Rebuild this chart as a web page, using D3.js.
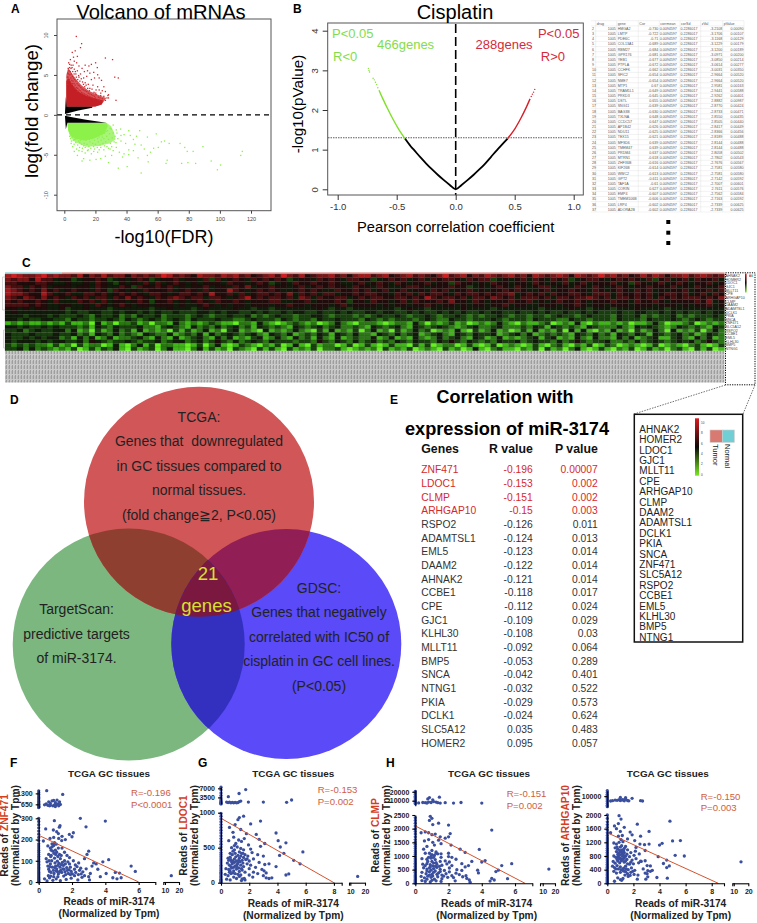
<!DOCTYPE html>
<html>
<head>
<meta charset="utf-8">
<title>miR-3174 figure</title>
<script src="https://cdn.jsdelivr.net/npm/d3@7"></script>
<style>
body { margin: 0; background: #fff; }
svg { display: block; font-family: "Liberation Sans", Arial, sans-serif; }
</style>
</head>
<body>
<svg id="fig" width="757" height="923"></svg>
<script>
// ---------- data ----------

// panel A, dense masses as outlines, loose points as [FDR, lfc]
const volcanoRedOuter = [[1.3,1],[1.3,5],[2.5,5.9],[4.5,5.3],[7,4.6],[11,3.7],[16,3],[22,2.5],[27,2.1],[24,1.3],[20,1.05],[16,1]];
const volcanoRedMass = [[1.3,1],[1.3,4.2],[2.5,4.6],[4.5,4],[7,3.3],[10,2.8],[14,2.4],[19,2.1],[25,1.8],[24,1.3],[20,1.05],[16,1]];
const volcanoGreenOuter = [[2,-1],[27,-1],[30,-1.4],[32,-2.2],[33,-3.1],[29,-3.6],[22,-3.9],[14,-4],[7,-3.4],[4,-2.8],[2.5,-2]];
const volcanoGreenMass = [[2,-1],[27,-1],[28,-1.4],[26,-2.3],[20,-2.9],[13,-3.2],[7,-3],[4,-2.6],[2.5,-1.9]];
const volcanoBlackUp = [[0.4,0.1],[1,2.3],[1.5,1],[18,1],[18,0.88],[9,0.55],[4,0.28]];
const volcanoBlackDown = [[0.4,-0.1],[1,-1.8],[2,-1],[27,-1],[27,-0.98],[14,-0.62],[5,-0.3]];
const volcanoRedPoints = [[7.3,9.9],[10.7,9],[4.7,7.9],[6.6,8.1],[10,8.5],[26,7.2],[30.6,7],[32,4.8],[34.3,4.7],[32.8,1.9],[27.6,2.5],[28,2.2],[19.7,6.6],[15.4,6.2],[20.8,6],[17,6.4],[13,6.3],[8,7.4],[5.5,7.3],[3.5,7],[6,6.8],[4,6.3],[7.5,6.6],[9,6.2],[11,5.9],[12.5,5.5],[14.5,5.6],[16,5.3],[18.5,5.4],[21,5.1],[22,4.7],[23.5,4.4],[19,4.7],[17,4.5],[14,4.9],[12,4.7],[10,5.2],[8,5.6],[6,5.8],[3,6],[2.4,6.6],[25,3.6],[24,3.1],[26,3],[21,3.6],[18,3.8],[15,3.9],[20,3.2],[23,2.8],[13,4.1],[9,4.8],[7,5.2],[5,5.5],[16,3.4],[28,2.6],
[1.6,4.3],[2,4.8],[2.2,5.2],[2.6,5.6],[3.1,5.1],[3.4,5.5],[3.8,4.7],[4.1,5.2],[4.4,4.4],[4.8,4.9],[5.2,4.3],[5.5,4.7],[5.9,4],[6.2,4.5],[6.6,3.8],[7,4.3],[7.4,3.5],[7.8,4],[8.2,3.4],[8.6,3.8],[9,3.2],[9.4,3.7],[9.8,3.1],[10.2,3.5],[10.6,2.9],[11,3.3],[11.5,2.8],[12,3.2],[12.5,2.7],[13,3.1],[13.5,2.6],[14,3],[14.5,2.5],[15,2.8],[15.5,2.4],[16,2.7],[16.5,2.3],[17,2.6],[17.5,2.2],[18,2.5],[18.5,2.1],[19,2.4],[19.5,2.2],[20,2.6],[21,2],[21.5,2.3],[22,1.9],[22.5,2.2],[23,2.5],[24,2.1],[25,2.4],[26,1.9],[27,2.2],[2.9,4.5],[3.6,4.2],[4.3,3.9],[5,4],[5.7,3.6],[6.4,3.4],[7.1,3.3],[8,3],[3,6.4],[3.9,5.9],[4.6,6],[5.2,6.3],[5.9,5.2],[6.7,5.5],[7.3,4.8],[8.2,4.5],[8.8,5],[9.6,4.3],[10.5,4.6],[11.3,4.2],[11.9,3.9],[12.7,3.6],[13.6,3.8],[14.6,3.4],[15.7,3.1],[17.4,3.3],[18.7,2.9],[19.8,2.8],[22,3.2],[2.1,5.9],[1.8,5.3],[1.5,4.8],[2.5,4.4],[1.7,3.9]];
const volcanoGreenPoints = [[58.7,-2.3],[62,-3.3],[64,-3.2],[67,-3.5],[74,-3.5],[77,-4],[88.7,-3.9],[114,-4.5],[113,-5],[78.6,-4.5],[82.4,-4.5],[94,-5.7],[100,-6.2],[98,-6.8],[75,-6],[79,-5.9],[84,-6],[65,-6],[65.7,-5.6],[49,-7.2],[40,-6.4],[34.3,-6.6],[53,-2.7],[53.5,-5.8],[48,-1.9],[41,-1.9],[35.8,-1.7],[38,-2.4],[42,-2.5],[46,-2.6],[44,-3],[36,-3.2],[39,-3.5],[33,-4],[35,-4.6],[38,-4.8],[41,-4.9],[41,-4.3],[45,-3.6],[49,-3.7],[51,-4.2],[55,-4.6],[53,-5],[57,-4.1],[60,-4],[47,-5.3],[44,-4.4],[37,-5.2],[28,-5.9],[26,-5.1],[30,-5],[31,-4.4],[23,-5.4],[20,-5.5],[16,-5.6],[12,-5.4],[11,-5.7],[8,-5],[6,-4.5],[9,-4.4],[13,-4.7],[17,-4.8],[21,-4.6],[25,-4.3],[29,-4.2],[4,-3.5],[5,-3.9],[15,-4.3],[19,-4.2],[23,-4],[27,-3.9],[34,-2.9],[36,-2.5],[33,-1.8],[31,-1.2],
[3,-2.6],[3.6,-2.9],[4.2,-3.2],[4.8,-2.7],[5.3,-3.1],[5.9,-3.6],[6.5,-3],[7,-3.4],[7.6,-2.9],[8.2,-3.7],[8.8,-3.2],[9.4,-4],[10,-3.1],[10.6,-3.6],[11.2,-4.1],[11.8,-3],[12.4,-3.5],[13,-4],[13.6,-3.1],[14.2,-3.6],[14.8,-2.9],[15.4,-3.9],[16,-3.3],[16.6,-4.1],[17.2,-2.9],[17.8,-3.5],[18.4,-3.9],[19,-3.1],[19.6,-3.6],[20.2,-2.6],[20.8,-4],[21.4,-3.3],[22,-2.7],[22.6,-3.7],[23.2,-3.1],[23.8,-2.4],[24.4,-3.5],[25,-2.9],[25.6,-2.2],[26.2,-3.3],[26.8,-2.6],[27.4,-1.9],[28,-3],[28.6,-2.3],[29.2,-3.5],[29.8,-1.7],[30.4,-2.8],[31,-2.2],[31.6,-3.3],[32.2,-2.6],[32.8,-3.4],[33.4,-2.2],[30,-3.9],[28,-4.1],[25.5,-3.8],[22,-4.3],[18.5,-4.5],[14.5,-4.4],[11,-4.5],[7.5,-4.2],[9.5,-3.4],[12,-3.8],[15.8,-3],[18,-2.8],[21,-2.9],[24,-2.7],[26.5,-2],[29,-1.6],[6,-3],[5,-2.5],[3.4,-2.2]];
const volcanoXTicks = [0,20,40,60,80,100,120];
const volcanoYTicks = [-10,-5,0,5,10];

// panel B, curve per colour as [R, -log10 P]
const cisplatinBlack = [[-0.43,1.28],[-0.38,1.08],[-0.35,0.98],[-0.3,0.81],[-0.25,0.65],[-0.2,0.5],[-0.15,0.36],[-0.1,0.23],[-0.05,0.11],[0,0],[0.05,0.11],[0.1,0.23],[0.15,0.36],[0.2,0.5],[0.25,0.65],[0.3,0.82],[0.35,0.99],[0.4,1.15],[0.44,1.28]];
const cisplatinGreen = [[-0.43,1.28],[-0.48,1.5],[-0.53,1.76],[-0.58,2.05],[-0.62,2.3],[-0.65,2.5]];
const cisplatinGreenLoose = [[-0.66,2.56],[-0.67,2.64],[-0.68,2.7],[-0.69,2.76],[-0.7,2.8],[-0.73,2.96],[-0.735,3],[-0.74,3.05]];
const cisplatinRed = [[0.44,1.28],[0.5,1.52],[0.55,1.78],[0.6,2.08],[0.63,2.28]];
const cisplatinRedLoose = [[0.64,2.34],[0.65,2.4],[0.66,2.45],[0.67,2.52]];
const cisplatinXTicks = [-1,-0.5,0,0.5,1];
const cisplatinYTicks = [0,1,2,3,4];

// spreadsheet next to panel B
const sheetHeader = ["drug","gene","Cor","corrmean","corSd","zVal","pValue"];
const sheetGenes = ["HMGA2","LMTP","PDE6C","COL13A1","RBM27","GPR176","YEB1","PTPLA","CCHFK","SFIC2","NME7","MTP1","TRAM1L1","PRKD3","DSTL","SNG11","BAG3B","TXLNA","CCDC57","AP1B42","NDU11","TEX15","MFSD6","TMEM47","PRDM4","MTRN1","ZHFX6B","KIF26B","WWC2","GPT2","TAF1A","CORIN","EMP4","TMEM106B","LRP4","ADORA2B"];
const sheetCor = ["-0.730","-0.722","-0.71","-0.689","-0.684","-0.681","-0.677","-0.672","-0.662","-0.654","-0.654","0.67","-0.649","-0.645","0.655","-0.639","-0.630","0.648","0.647","-0.626","-0.625","-0.621","0.639","0.639","0.637","-0.618","-0.616","-0.614","-0.613","-0.611","-0.61","0.627","-0.607","-0.606","-0.602","-0.602"];
const sheetZ = ["-3.2108","-3.1706","-3.1168","-3.1229","-3.1200","-3.0971","-3.0850","-3.0614","-3.0031","-2.9664","-2.9664","2.9581","-2.9441","-2.9262","2.8882","-2.8770","-2.8733","2.8550","2.8505","-2.8417","-2.8366","-2.8189","2.8144","2.8144","2.8058","-2.7802","-2.7676","-2.7581","-2.7581","-2.7142","-2.7007","2.7611","-2.7562","-2.7163","-2.7339","-2.7339"];
const sheetP = ["0.00090","0.00107","0.00129","0.00179","0.00189","0.00200","0.00214","0.00277","0.00350","0.00520","0.00520","0.00163","0.00588","0.00401","0.00987","0.00424","0.00471","0.00435","0.00440","0.00449","0.00456","0.00488","0.00488","0.00488","0.00502","0.00543","0.00567","0.00580","0.00580","0.00592","0.00601","0.00576","0.00584","0.00592","0.00625","0.00625"];

// panel C, level 0 (bright green) .. 9 (bright red), columns by ten
const heatGenes = ["AHNAK2","HOMER2","LDOC1","GJC1","MLLT11","CPE","ARHGAP10","CLMP","DAAM2","ADAMTSL1","DCLK1","PKIA","SNCA","ZNF471","SLC5A12","RSPO2","CCBE1","EML5","KLHL30","BMP5","NTNG1"];
const heatRows = [
"8987789787 7685768677 5767679867 6587768786 7567869768 5677867578 8678567867 6579678576 8767867587 6787587679 7867568687 5778678767",
"7677586645 5345565345 4565345564 5546364565 4656565345 5465654665 5345656456 4656654656 6345456465 4656345665 4565654635 6456465564",
"6655566544 5445465435 4546464565 4545554655 4565345465 5655654456 4565465455 6455365545 4655455465 4546456455 5645365456 4565455645",
"7664656455 5455465446 5365565645 4556455465 7455655456 4565655465 5465445665 4555655345 4565465456 6455465465 4565455655 5645465456",
"8765657564 5655465365 4546555645 6546455865 4565654456 5654465565 6456456455 4656455645 4556565445 6455655465 4565465645 4556455646",
"8776558645 6446656456 5654665456 6565855646 4566565746 5646645565 6655465646 5665465665 6566745656 4655665466 6465565645 6656456465",
"7657657565 4656466465 7565465676 5664665456 8565665647 6465566456 5665566565 8656656466 5765646665 6466566765 6466565646 5656665657",
"6565565464 4465646455 4565355645 4565465565 4555664455 6455565355 4655456465 5565755465 4555655645 4565565455 5655465565 4555565745",
"6666565445 5445465456 5455455545 4456545455 4555455655 4555456455 5545455455 6545545455 4556455445 5545565455 4555455545 5545455645",
"5545455445 3445444344 4444344544 4345444454 4344344444 4454344344 4444434544 3444445444 4344444443 4444544344 4344454444 3444444444",
"4544444444 3433443343 4434343343 3344343443 3434334344 3343343433 4434433434 3343434334 3443343343 4334334343 3343344334 3434334344",
"4443444343 3343243342 3243342333 2343233433 4232343323 3443233323 2343343233 4323343232 3343233233 2343323433 3243342323 3423233343",
"4434334433 2433233432 4323432343 2433343322 3433324323 3243343332 4323233323 4322433233 3432333243 3322433233 3243332433 3432343233",
"1212112121 3112041202 2312022142 1212321102 2142101232 1201242102 2210122142 0212312012 1242102112 3012141021 1212011242 0112301212",
"4434334343 3323143243 3342213432 1423242342 3143232143 2342342232 1432342143 2343212342 2342223243 1432321432 2242143432 1243232143",
"3342343344 2412031242 3141212031 3124120341 2104121242 1031412130 2412031242 3012141031 2412013141 2130414102 1412031242 0412130242",
"4333433343 3423143242 3214322412 3241423432 3421432412 3243143242 2143242341 2342143243 3412342412 3232143242 3143243143 2342312432",
"4334343442 3142412412 2342142141 2342142412 1341242142 3142141232 2412412142 1242342143 1241212341 3412142142 2142412341 1342142412",
"4344434344 3342543233 4323342344 2342353242 3432433323 3253243242 3423243243 3243532432 3243342343 3242353233 4223242343 2343423532",
"3232322131 2031220141 0241302211 0130241013 2102130141 0312201301 3101311031 3012201310 1301210131 0231021301 3201210130 1210231013",
"3342423212 1301313241 0312302411 0241312032 1031310312 1302231012 1203121301 2103120141 0231102130 3120241013 1021301312 0231031301"
];
const heatLevels = [0,1,2,3,4.5,6,7,8,9];

// panel E
const corrGenes = ["ZNF471","LDOC1","CLMP","ARHGAP10","RSPO2","ADAMTSL1","EML5","DAAM2","AHNAK2","CCBE1","CPE","GJC1","KLHL30","MLLT11","BMP5","SNCA","NTNG1","PKIA","DCLK1","SLC5A12","HOMER2"];
const corrR = ["-0.196","-0.153","-0.151","-0.15","-0.126","-0.124","-0.123","-0.122","-0.121","-0.118","-0.112","-0.109","-0.108","-0.092","-0.053","-0.042","-0.032","-0.029","-0.024","0.035","0.095"];
const corrP = ["0.00007","0.002","0.002","0.003","0.011","0.013","0.014","0.014","0.014","0.017","0.024","0.029","0.03","0.064","0.289","0.401","0.522","0.573","0.624","0.483","0.057"];

// panel F
const fPoints = [[.42,250],[.94,289],[1.28,265],[2.5,300],[2.84,260],[4,287],[.88,245],[1.08,237],[1.24,258],[1.18,228],[2.08,232],[1.84,224],[2,213],[.28,193],[.68,205],[1.2,205],[1.38,195],[.8,180],[.9,172],[.95,185],[1.05,178],[.7,160],[.75,150],[.85,145],[.92,135],[1,150],[1.08,140],[1.15,120],[1.25,130],[1.4,160],[1.55,140],[1.7,125],[1.85,115],[2.9,130],[3,145],[2.75,110],[.45,110],[.5,95],[.55,75],[.6,60],[.65,50],[.7,85],[.78,100],[.82,70],[.88,55],[.92,40],[.98,90],[1.02,75],[1.08,62],[1.12,50],[1.18,38],[1.22,88],[1.28,70],[1.32,55],[1.38,45],[1.42,92],[1.48,78],[1.52,60],[1.58,48],[1.62,35],[1.68,68],[1.72,55],[1.78,40],[1.85,85],[1.9,70],[1.95,50],[2.02,38],[2.08,100],[2.15,60],[2.22,45],[2.3,72],[2.38,35],[2.45,55],[2.52,65],[2.6,22],[2.65,48],[2.75,30],[2.85,62],[3,25],[3.05,10],[3.1,40],[3.2,75],[3.3,90],[3.45,85],[3.55,60],[3.7,25],[3.85,95],[4.05,40],[4.2,105],[4.45,20],[4.6,45],[4.7,15],[4.85,42],[4.95,20],[5.55,75],[5.8,50],[.35,15],[.5,5],[.65,20],[.85,8],[1.05,15],[1.3,6],[1.65,12],[1.95,18],[2.35,10],[.6,130],[.55,170],[.72,120],[1.3,110],[1.12,98],[.95,112],
[.75,125],[.8,165],[1.02,130],[1.18,160],[1.35,125],[.62,100],[.68,72],[.74,45],[.96,68],[1.04,52],[1.16,78],[1.26,48],[1.35,82],[1.45,62],[1.55,100],[1.6,85],[1.75,95],[1.82,58],[2.2,80],[2.4,90],[.58,30],[.72,28],[.9,25],[1.15,25],[1.5,28],[1.9,35],[2.15,30],[2.55,38],[1.4,215],[1.6,200],[.9,210]];
const fUpper = [[.48,1458],[1.44,1240],[.6,800],[.7,700],[.8,850],[.9,880],[1,750],[1.1,900],[1.05,620],[.85,560],[.95,610],[1.15,680],[1.25,800],[1.3,640],[.55,590],[.7,590],[.35,620],[.45,680],[.65,560],[1,520],[1.2,560]];
const fZero = [0,3,6,9,13,17,21,25,30,35,40,46,52,58,64,70,77,84,91,98,105,113,121,130,140,150,160,170,180,195,210,225,240,255,270,285,300];
const fZeroUpper = [460,480,510,540,570,610,650,700,760,830,900,980,1060,1150,1250,1350,1450];
const fOutlier = [[14.5,30]];
const fLine = [[0,220],[6,0]];

// panel G
const gPoints = [[1.3,930],[1.6,950],[1.2,900],[2.8,880],[2.1,840],[.6,790],[1,830],[.85,720],[1.4,760],[1.8,700],[2.5,690],[3.9,710],[2.7,620],[3.1,560],[4.05,600],[4.6,570],[4.2,510],[5.8,440],[4.45,420],[4.15,390],[5.15,320],[5.6,270],[2.8,520],[.55,600],[.9,650],[1.05,560],[1.25,610],[1.65,630],[1.95,540],[1.15,510],[.75,500],[.95,470],[1.4,490],[1.6,470],[2.1,480],[.65,420],[.8,400],[1,420],[1.2,390],[1.45,420],[1.7,400],[1.9,380],[2.2,430],[2.6,400],[3,380],[.5,350],[.7,330],[.95,340],[1.1,310],[1.3,350],[1.5,320],[1.75,330],[2,310],[2.3,340],[2.7,290],[.45,280],[.6,250],[.8,270],[1,240],[1.2,280],[1.4,250],[1.6,230],[1.85,270],[2.1,250],[2.45,220],[3.1,260],[3.4,270],[.35,200],[.55,190],[.75,210],[.9,170],[1.1,195],[1.3,160],[1.5,180],[1.7,150],[2,200],[2.3,150],[2.9,190],[3.2,140],[3.9,230],[.3,120],[.5,100],[.7,130],[.9,80],[1.1,60],[1.3,90],[1.5,55],[1.7,40],[2,110],[2.25,80],[3,100],[3.2,70],[3.4,60],[3.6,70],[4.6,110],[4.8,125],[.4,50],[.65,40],[1.45,30],[1.65,60],[2.6,130],[3.05,170],[.6,175],
[.65,365],[.85,310],[1.05,370],[1.25,320],[1.4,380],[.75,300],[.95,290],[1.15,260],[1.35,300],[1.55,280],[.55,320],[.7,230],[.9,220],[1.1,230],[1.25,210],[1.45,200],[.85,140],[1,130],[1.2,120],[1.4,110],[.65,160],[1.85,340],[1.6,360],[.85,450],[1.3,440],[1.55,420],[.95,530],[1.45,590],[.6,150]];
const gUpper = [[1.28,5000],[1.75,6500],[.52,3800],[.4,1700],[.5,1500],[.6,1700],[.7,1400],[.8,1600],[.9,1400],[1,1600],[1.1,1400],[1.2,1500],[1.3,1900],[1.4,2100],[1.94,1700],[3,1700],[4.65,1600],[5,2500]];
const gZero = [5,20,35,50,70,90,110,130,150,175,200,225,250,280,310,340,370,400,430,470,510,550,590,630,670,710,750,790,830,870,910,950,990];
const gZeroUpper = [1000,1100,1300,1500,1800,2100,2600,3300,4200,5200,6400,7400];
const gOutlier = [[15,90]];
const gLine = [[0,920],[8,0]];

// panel H
const hPoints = [[.9,2450],[1,2380],[.85,2300],[1.05,2150],[1.4,2200],[2,2130],[.6,1880],[.8,1850],[1,1780],[1.2,1800],[1.5,1700],[1.8,1650],[2,1700],[2.1,1820],[4.6,1950],[.35,1850],[.55,1550],[.8,1600],[1.05,1500],[1.4,1580],[1.55,1450],[2.15,1400],[1.15,1400],[.7,1350],[2.7,1250],[3.85,1240],[3,1130],[1,1200],[1.25,1150],[1.55,1080],[2,1100],[.5,1250],[.6,1100],[.85,1100],[1,1050],[1.15,1020],[1.35,1080],[1.55,950],[2,980],[2.2,950],[2.45,880],[.4,900],[.7,880],[.95,920],[1.2,870],[1.5,800],[1.8,820],[2.05,780],[3.4,800],[4,780],[4.2,830],[.45,700],[.7,720],[.9,680],[1.1,740],[1.3,690],[1.6,660],[1.9,710],[2.2,650],[2.8,720],[3.2,650],[5.8,720],[5.2,650],[.5,570],[.7,520],[.9,600],[1.1,540],[1.3,580],[1.5,510],[1.75,470],[2.05,560],[2.5,500],[2.8,470],[3,600],[3.75,480],[4.85,430],[5,480],[.4,400],[.65,350],[.85,420],[1,330],[1.2,450],[1.4,380],[1.6,300],[1.85,350],[2.05,420],[2.45,370],[2.65,320],[3.05,280],[3.8,380],[.35,250],[.55,200],[.75,260],[.95,220],[1.15,150],[1.35,240],[1.6,170],[1.95,220],[2.2,280],[2.85,240],[3.1,180],[3.25,120],[4.6,180],[4.75,120],[4.5,80],[5.55,170],[.4,100],[.6,70],[.9,50],[1.25,90],[1.55,70],[2.4,90],[3.3,40],
[.95,1000],[1.1,950],[1.25,1100],[.8,950],[.75,800],[1,800],[1.25,760],[.6,650],[.85,560],[1.05,640],[1.2,620],[1.45,620],[.7,450],[.95,480],[1.1,400],[1.3,330],[1.5,430],[.85,300],[1.05,270],[1.7,260],[2.3,210],[.7,150],[1,110]];
const hUpper = [[.75,12000],[.85,13500],[1.45,14000],[1.05,11000],[.2,7500],[.45,8000],[.6,7800],[.8,8500],[.95,8000],[1.1,9000],[1.25,8500],[1.35,7800],[.7,7400],[1.8,7800],[2.3,7300],[2.75,8000],[4,7300],[1.5,7300]];
const hZero = [5,30,60,90,120,160,200,240,290,340,400,450,510,560,620,680,730,790,850,910,980,1050,1120,1190,1270,1350,1430,1510,1600,1700,1800,1900,2000,2100,2200,2300,2400];
const hZeroUpper = [6500,7500,8500,9500,10500,12000,13500,15000,17000,19000,20500];
const hOutlier = [[15,520]];
const hLine = [[0,2100],[6.6,0]];

// panel I
const iPoints = [[.9,1980],[1.05,1880],[.85,1750],[1.3,1640],[.55,1680],[.7,1600],[2.3,1730],[4.8,1820],[1,1520],[1.75,1500],[.25,1480],[2.55,1380],[1.9,1420],[3.2,1520],[.85,1380],[1.15,1400],[1.05,1280],[1.55,1300],[2.1,1250],[2.5,1150],[2.85,1130],[3.2,1150],[4,1120],[4.2,1170],[5,1240],[5.6,1250],[.5,1180],[.7,1150],[.9,1200],[1.2,1220],[1.4,1080],[2.2,1050],[2.9,960],[.6,1040],[.8,1000],[1,1060],[1.15,980],[1.3,1020],[1.55,980],[1.8,900],[2.15,940],[.7,930],[.85,880],[1,910],[1.15,860],[1.3,900],[1.5,850],[1.7,780],[2.05,820],[2.45,860],[3.9,780],[5.2,820],[5.9,800],[.5,800],[.65,760],[.85,780],[1,730],[1.15,790],[1.3,740],[1.5,700],[1.9,680],[2.2,720],[2.6,640],[2.9,660],[4.55,680],[4.3,580],[.45,640],[.6,590],[.8,650],[.95,600],[1.1,670],[1.3,620],[1.55,570],[1.8,620],[2,570],[2.4,600],[2.55,650],[3.05,520],[3.3,510],[4.75,510],[4.55,460],[.4,500],[.55,460],[.75,520],[1,480],[1.25,440],[1.4,500],[1.6,400],[1.85,450],[2.1,380],[2.75,420],[3.1,370],[3.3,350],[3.45,380],[.5,350],[.7,300],[1,320],[1.2,380],[1.4,340],[1.55,280],[1.8,320],[1.95,350],[2.35,240],[2.9,300],[3.05,280],[3.1,190],[3.8,170],[4.6,150],[.8,160],[1,110],[1.2,140],[2.3,120],[2.95,120],[.55,60],[1.1,90],
[.75,1060],[.95,960],[1.1,1100],[1.25,950],[.8,840],[.95,830],[1.1,920],[1.25,820],[1.4,790],[.75,700],[.9,720],[1.05,660],[1.2,700],[1.4,650],[1.7,560],[.65,420],[.85,420],[1.05,400],[1.25,360],[1.45,420],[1.6,200],[1.35,240],[2.05,260],[1.75,230]];
const iUpper = [[1,9300],[1.4,9100],[1.9,8800],[.4,7500],[.6,7800],[.75,7700],[.9,8000],[1,7600],[1.1,7900],[1.2,8000],[1.3,7400],[1.4,8300],[1.55,7600],[1.65,7400],[2.55,7500],[2.7,7300],[.25,7300]];
const iZero = [5,25,50,80,110,140,180,220,260,300,340,380,430,470,510,560,610,660,710,760,810,860,910,970,1030,1090,1150,1210,1270,1330,1400,1480,1560,1640,1720,1800,1900,2000];
const iZeroUpper = [4200,5000,6000,7000,7800,8600,9400,10200,11000,12000,13000];
const iOutlier = [[15,630]];
const iLine = [[0,1480],[8.5,0]];

// ---------- drawing ----------
const svg = d3.select("#fig");
const defs = svg.append("defs");

function panelLetter(t, x, y) {
  svg.append("text").attr("x", x).attr("y", y).attr("font-size", 12).attr("font-weight", "bold").text(t);
}
panelLetter("A", 11, 13);
panelLetter("B", 293, 13);
panelLetter("C", 22, 267);
panelLetter("D", 10, 404);
panelLetter("E", 390, 404);
panelLetter("F", 10, 767);
panelLetter("G", 198, 767);
panelLetter("H", 386, 767);

function label(x, y, t, size, anchor, fill, weight) {
  return svg.append("text").attr("x", x).attr("y", y).attr("font-size", size)
    .attr("text-anchor", anchor || "start").attr("fill", fill || "#000")
    .attr("font-weight", weight || "normal").text(t);
}
function vlabel(x, y, t, size, fill) {
  return svg.append("text").attr("transform", `translate(${x},${y}) rotate(-90)`)
    .attr("font-size", size).attr("text-anchor", "middle").attr("fill", fill || "#000").text(t);
}
function closedPoly(g, pts, x, y, fill) {
  const line = d3.line().x(d => x(d[0])).y(d => y(d[1]));
  g.append("path").attr("d", line(pts) + "Z").attr("fill", fill);
}
function rAxisStyle(g, size, col) {
  g.selectAll("path,line").attr("stroke", col);
  g.selectAll("text").attr("font-size", size).attr("fill", col).attr("font-family", null);
}

// ---- A volcano
{
  const x = d3.scaleLinear().domain([0,120]).range([64.3,251]);
  const y = d3.scaleLinear().domain([-10,10]).range([194.7,35]);
  const g = svg.append("g");
  closedPoly(g, volcanoGreenOuter, x, y, "#A9F57A");
  closedPoly(g, volcanoGreenMass, x, y, "#8CF24A");
  closedPoly(g, volcanoRedOuter, x, y, "#D8585C");
  closedPoly(g, volcanoRedMass, x, y, "#C41F24");
  g.selectAll(".r").data(volcanoRedPoints).enter().append("rect").attr("class", "r")
    .attr("x", d => x(d[0])).attr("y", d => y(d[1])).attr("width", 1.3).attr("height", 1.3).attr("fill", "#CB2A30");
  g.selectAll(".v").data(volcanoGreenPoints).enter().append("rect").attr("class", "v")
    .attr("x", d => x(d[0])).attr("y", d => y(d[1])).attr("width", 1.3).attr("height", 1.3).attr("fill", "#8CF04A");
  closedPoly(g, volcanoBlackUp, x, y, "#000");
  closedPoly(g, volcanoBlackDown, x, y, "#000");
  g.append("line").attr("x1", 57).attr("x2", 271).attr("y1", y(0)).attr("y2", y(0))
    .attr("stroke", "#000").attr("stroke-width", 1.4).attr("stroke-dasharray", "5 4");
  svg.append("rect").attr("x", 57).attr("y", 19).attr("width", 214).attr("height", 191.7)
    .attr("fill", "none").attr("stroke", "#555").attr("stroke-width", 1);
  const ax = svg.append("g").attr("transform", "translate(0,210.7)")
    .call(d3.axisBottom(x).tickValues(volcanoXTicks).tickFormat(d => d).tickSize(3).tickSizeOuter(0));
  rAxisStyle(ax, 5.5, "#444");
  ax.select(".domain").remove();
  const ay = svg.append("g").attr("transform", "translate(57,0)")
    .call(d3.axisLeft(y).tickValues(volcanoYTicks).tickFormat(d => d).tickSize(3).tickSizeOuter(0));
  rAxisStyle(ay, 5.5, "#444");
  ay.select(".domain").remove();
  ay.selectAll("text").attr("transform", "rotate(-90)").attr("text-anchor", "middle").attr("x", 0).attr("y", -9).attr("dy", 0);
  label(161, 18.5, "Volcano of mRNAs", 20.2, "middle");
  label(164, 243, "-log10(FDR)", 18, "middle");
  vlabel(38, 111, "log(fold change)", 18.7);
}

// ---- B cisplatin
{
  const x = d3.scaleLinear().domain([-1,1]).range([337.7,573.7]);
  const y = d3.scaleLinear().domain([0,4]).range([189.3,30.7]);
  const line = d3.line().curve(d3.curveCatmullRom).x(d => x(d[0])).y(d => y(d[1]));
  svg.append("line").attr("x1", 328).attr("x2", 583).attr("y1", y(1.3)).attr("y2", y(1.3))
    .attr("stroke", "#333").attr("stroke-width", 0.8).attr("stroke-dasharray", "1.5 1");
  svg.append("path").attr("d", line(cisplatinBlack)).attr("fill", "none").attr("stroke", "#000").attr("stroke-width", 1.8);
  svg.append("path").attr("d", line(cisplatinGreen)).attr("fill", "none").attr("stroke", "#7FE02A").attr("stroke-width", 1.4);
  svg.append("path").attr("d", line(cisplatinRed)).attr("fill", "none").attr("stroke", "#D5202A").attr("stroke-width", 1.4);
  svg.selectAll(".bg").data(cisplatinGreenLoose).enter().append("circle").attr("class", "bg")
    .attr("cx", d => x(d[0])).attr("cy", d => y(d[1])).attr("r", 0.7).attr("fill", "#7FE02A");
  svg.selectAll(".br").data(cisplatinRedLoose).enter().append("circle").attr("class", "br")
    .attr("cx", d => x(d[0])).attr("cy", d => y(d[1])).attr("r", 0.7).attr("fill", "#D5202A");
  svg.append("line").attr("x1", x(0)).attr("x2", x(0)).attr("y1", 24).attr("y2", 195)
    .attr("stroke", "#000").attr("stroke-width", 1.6).attr("stroke-dasharray", "9 4");
  svg.append("rect").attr("x", 327.7).attr("y", 23).attr("width", 255.6).attr("height", 172)
    .attr("fill", "none").attr("stroke", "#555").attr("stroke-width", 1);
  const ax = svg.append("g").attr("transform", "translate(0,195)")
    .call(d3.axisBottom(x).tickValues(cisplatinXTicks).tickFormat(d => d3.format(".1f")(d).replace("−", "-")).tickSize(5).tickSizeOuter(0));
  rAxisStyle(ax, 9.5, "#333");
  ax.select(".domain").remove();
  const ay = svg.append("g").attr("transform", "translate(327.7,0)")
    .call(d3.axisLeft(y).tickValues(cisplatinYTicks).tickFormat(d => d).tickSize(5).tickSizeOuter(0));
  rAxisStyle(ay, 9.5, "#333");
  ay.select(".domain").remove();
  ay.selectAll("text").attr("transform", "rotate(-90)").attr("text-anchor", "middle").attr("x", 0).attr("y", -10).attr("dy", 0);
  label(455, 18.5, "Cisplatin", 20, "middle");
  label(455.7, 232, "Pearson correlation coefficient", 14.7, "middle");
  vlabel(303, 104, "-log10(pValue)", 15.2);
  const gr = "#84DC4C", rd = "#D42A3C";
  label(332, 38, "P<0.05", 13, "start", gr);
  label(377, 48.5, "466genes", 13, "start", gr);
  label(333, 61, "R<0", 13, "start", gr);
  label(579.5, 38, "P<0.05", 13, "end", rd);
  label(475.5, 48.5, "288genes", 13, "start", rd);
  label(565, 61, "R>0", 13, "end", rd);
}

// ---- spreadsheet
{
  const cols = [595.7,616.7,638.3,659.3,680,700.7,722.7,744];
  const rowY = d3.scaleLinear().domain([0,37]).range([20.7,212]);
  const g = svg.append("g").attr("font-size", 3.6).attr("fill", "#555");
  d3.range(38).forEach(i => g.append("line").attr("x1", 591).attr("x2", 744).attr("y1", rowY(i)).attr("y2", rowY(i)).attr("stroke", "#ddd").attr("stroke-width", 0.4));
  cols.forEach(c => g.append("line").attr("x1", c).attr("x2", c).attr("y1", 20.7).attr("y2", 212).attr("stroke", "#ddd").attr("stroke-width", 0.4));
  sheetHeader.forEach((h, i) => g.append("text").attr("x", cols[i] + 1).attr("y", rowY(0) + 4).text(h));
  sheetGenes.forEach((gene, i) => {
    const yy = rowY(i + 1) + 4;
    g.append("text").attr("x", 592).attr("y", yy).text(i + 2);
    g.append("text").attr("x", cols[1] - 1).attr("y", yy).attr("text-anchor", "end").text("1005");
    g.append("text").attr("x", cols[1] + 1).attr("y", yy).text(gene);
    g.append("text").attr("x", cols[3] - 1).attr("y", yy).attr("text-anchor", "end").text(sheetCor[i]);
    g.append("text").attr("x", cols[3] + 0.5).attr("y", yy).text("0.0094597");
    g.append("text").attr("x", cols[4] + 0.5).attr("y", yy).text("0.2286017");
    g.append("text").attr("x", cols[6] - 0.5).attr("y", yy).attr("text-anchor", "end").text(sheetZ[i]);
    g.append("text").attr("x", cols[7] - 0.5).attr("y", yy).attr("text-anchor", "end").text(sheetP[i]);
  });
  [222,232.7,243].forEach(yy => svg.append("rect").attr("x", 666.3).attr("y", yy - 2).attr("width", 4).attr("height", 4).attr("fill", "#000"));
}

// ---- C heatmap
{
  const rows = heatRows.map(r => r.replace(/ /g, ""));
  const x = d3.scaleBand().domain(d3.range(rows[0].length)).range([5,724.5]);
  const y = d3.scaleBand().domain(d3.range(rows.length)).range([274,350.7]);
  const color = d3.scaleLinear().domain(heatLevels)
    .range(["#66F022","#3FB518","#2A7812","#17400C","#0C0A08","#4A0F10","#7A1517","#A8181B","#DC1A1E"]);
  const g = svg.append("g");
  rows.forEach((r, i) => {
    g.selectAll(".c" + i).data(r.split("")).enter().append("rect").attr("class", "c" + i)
      .attr("x", (d, j) => x(j)).attr("y", y(i)).attr("width", x.bandwidth() + 0.1).attr("height", y.bandwidth() + 0.1)
      .attr("fill", d => color(+d));
  });
  // thin dark grid as in the original
  x.domain().forEach(j => g.append("line").attr("x1", x(j)).attr("x2", x(j)).attr("y1", 274).attr("y2", 350.7).attr("stroke", "#000").attr("stroke-width", 0.3).attr("stroke-opacity", 0.5));
  y.domain().forEach(i => g.append("line").attr("x1", 5).attr("x2", 724.5).attr("y1", y(i)).attr("y2", y(i)).attr("stroke", "#000").attr("stroke-width", 0.3).attr("stroke-opacity", 0.5));
  svg.append("rect").attr("x", 5).attr("y", 272.4).attr("width", 57).attr("height", 1.7).attr("fill", "#7CCFD3");
  svg.append("rect").attr("x", 62).attr("y", 272.4).attr("width", 662.5).attr("height", 1.7).attr("fill", "#D58A86");
  // sample id strip, too small to read in the reference
  const pat = defs.append("pattern").attr("id", "ids").attr("patternUnits", "userSpaceOnUse").attr("width", 3).attr("height", 5);
  pat.append("rect").attr("width", 3).attr("height", 5).attr("fill", "#C9C9C9");
  pat.append("rect").attr("width", 1).attr("height", 4).attr("fill", "#9E9E9E");
  pat.append("rect").attr("x", 2).attr("y", 1).attr("width", 0.6).attr("height", 3).attr("fill", "#ADADAD");
  svg.append("rect").attr("x", 5).attr("y", 351).attr("width", 719.5).attr("height", 31.5).attr("fill", "url(#ids)");
  // dendrogram stub
  svg.append("path").attr("d", "M5 277H2.5V310M2.5 310H5M3.5 330H5M3.5 330V348H5").attr("fill", "none").attr("stroke", "#bbb").attr("stroke-width", 0.6);
  heatGenes.forEach((n, i) => svg.append("text").attr("x", 725.5).attr("y", y(i) + 3).attr("font-size", 3.6).attr("fill", "#444").text(n));
  // dotted zoom box and leader lines
  svg.append("rect").attr("x", 725.5).attr("y", 272.8).attr("width", 29.5).attr("height", 112)
    .attr("fill", "none").attr("stroke", "#000").attr("stroke-width", 1).attr("stroke-dasharray", "1.2 1.2");
  svg.append("line").attr("x1", 725.5).attr("y1", 385).attr("x2", 634).attr("y2", 414).attr("stroke", "#333").attr("stroke-width", 0.7).attr("stroke-dasharray", "1.5 1.2");
  svg.append("line").attr("x1", 755).attr("y1", 385).attr("x2", 743).attr("y2", 414).attr("stroke", "#333").attr("stroke-width", 0.7).attr("stroke-dasharray", "1.5 1.2");
  // tiny key in the dotted box
  const gradS = defs.append("linearGradient").attr("id", "keyGrad").attr("x1", 0).attr("x2", 0).attr("y1", 0).attr("y2", 1);
  gradS.append("stop").attr("offset", "0%").attr("stop-color", "#D81A1E");
  gradS.append("stop").attr("offset", "50%").attr("stop-color", "#0C0A08");
  gradS.append("stop").attr("offset", "100%").attr("stop-color", "#7BEA22");
  svg.append("rect").attr("x", 745).attr("y", 273.5).attr("width", 1.6).attr("height", 19).attr("fill", "url(#keyGrad)");
  svg.append("rect").attr("x", 749).attr("y", 274.5).attr("width", 2).attr("height", 2.5).attr("fill", "#D97A72");
  svg.append("rect").attr("x", 751).attr("y", 274.5).attr("width", 2).attr("height", 2.5).attr("fill", "#6FCFD5");
}

// ---- D venn
{
  const cRed = {x:199, y:501.7, r:115, fill:"#D15658"};
  const cGreen = {x:128.7, y:644.5, r:116, fill:"#7BB77F"};
  const cBlue = {x:286.3, y:644, r:115, fill:"#5A4AF8"};
  [cRed, cGreen, cBlue].forEach((c, i) => {
    defs.append("clipPath").attr("id", "venn" + i).append("circle").attr("cx", c.x).attr("cy", c.y).attr("r", c.r);
  });
  const circ = (c, fill, clip) => {
    const el = svg.append("circle").attr("cx", c.x).attr("cy", c.y).attr("r", c.r).attr("fill", fill);
    if (clip !== undefined) el.attr("clip-path", "url(#venn" + clip + ")");
  };
  circ(cGreen, cGreen.fill);
  circ(cBlue, cBlue.fill);
  circ(cRed, cRed.fill);
  circ(cGreen, "#8F3F30", 0);
  circ(cBlue, "#911E55", 0);
  circ(cBlue, "#3330C0", 1);
  svg.append("g").attr("clip-path", "url(#venn0)").append("g").attr("clip-path", "url(#venn1)")
    .append("circle").attr("cx", cBlue.x).attr("cy", cBlue.y).attr("r", cBlue.r).attr("fill", "#7A1840");

  const tcgaLines = ["TCGA:","Genes that  downregulated","in GC tissues compared to","normal tissues.","(fold change≧2, P<0.05)"];
  tcgaLines.forEach((t, i) => label(199, 421.5 + i * 24.6, t, 14, "middle", "#222").attr("xml:space", "preserve"));
  ["TargetScan:","predictive targets","of miR-3174."].forEach((t, i) => label(76.5, 614 + i * 24.6, t, 14, "middle", "#222"));
  ["GDSC:","Genes that negatively","correlated with IC50 of","cisplatin in GC cell lines.","(P<0.05)"].forEach((t, i) => label(319, 592.5 + i * 24.6, t, 14, "middle", "#222"));
  label(208, 580, "21", 18.5, "middle", "#D6E02E");
  label(206.5, 612, "genes", 18.5, "middle", "#D6E02E");
}

// ---- E table
{
  label(505, 403, "Correlation with", 18, "middle", "#000", "bold");
  label(507, 435, "expression of miR-3174", 18.2, "middle", "#000", "bold");
  label(421.3, 453, "Genes", 12.3, "start", "#111", "bold");
  label(532.8, 453, "R value", 12.3, "end", "#111", "bold");
  label(597.8, 453, "P value", 12.3, "end", "#111", "bold");
  const y = d3.scaleLinear().domain([0,20]).range([473.3,746.7]);
  corrGenes.forEach((n, i) => {
    const col = i < 4 ? "#D5292B" : "#333";
    label(421.3, y(i), n, 10.3, "start", col);
    label(532.8, y(i), corrR[i], 10.3, "end", col);
    label(597.8, y(i), corrP[i], 10.3, "end", col);
  });
  // inset list
  svg.append("rect").attr("x", 634.3).attr("y", 414.3).attr("width", 108.4).attr("height", 227.7)
    .attr("fill", "#fff").attr("stroke", "#111").attr("stroke-width", 1.5);
  const yi = d3.scaleLinear().domain([0,20]).range([432.7,640.7]);
  heatGenes.forEach((n, i) => label(639.3, yi(i), n, 10, "start", "#222"));
  svg.append("rect").attr("x", 695).attr("y", 418.3).attr("width", 4).attr("height", 57.4).attr("fill", "url(#keyGrad)");
  [10,8,6,4,2,0].forEach((v, i) => {
    const yy = 424 + i * 10.3;
    svg.append("text").attr("x", 701).attr("y", yy).attr("font-size", 3).attr("fill", "#333").text(v);
  });
  svg.append("rect").attr("x", 710).attr("y", 430).attr("width", 12.3).attr("height", 12.3).attr("fill", "#D97A72").attr("stroke", "#ccc").attr("stroke-width", 0.6);
  svg.append("rect").attr("x", 722.3).attr("y", 430).attr("width", 12).attr("height", 12.3).attr("fill", "#6FCFD5").attr("stroke", "#ccc").attr("stroke-width", 0.6);
  svg.append("text").attr("transform", "translate(713,444) rotate(90)").attr("font-size", 7.5).attr("fill", "#222").text("Tumor");
  svg.append("text").attr("transform", "translate(725,444) rotate(90)").attr("font-size", 7.5).attr("fill", "#222").text("Normal");
}

// ---- F-I scatter panels
function scatter(o) {
  const g = svg.append("g");
  const xLow = d3.scaleLinear().domain(o.xLowDom).range(o.xLowRange);
  const xHigh = d3.scaleLinear().domain(o.xHighDom).range(o.xHighRange);
  const yLow = d3.scaleLinear().domain(o.yLowDom).range(o.yLowRange);
  const yHigh = d3.scaleLinear().domain(o.yHighDom).range(o.yHighRange);
  const blue = "#3B4F9F", orange = "#D4532E";
  const axisY = o.yLowRange[0], axisX = o.xLowRange[0];

  const dots = (data, xs, ys) => g.append("g").selectAll("circle").data(data).enter().append("circle")
    .attr("cx", d => xs(d[0])).attr("cy", d => ys(d[1])).attr("r", 1.65).attr("fill", blue);
  dots(o.points, xLow, yLow);
  dots(o.upper, xLow, yHigh);
  dots(o.zero.map(v => [0, v]), xLow, yLow);
  dots(o.zeroUpper.map(v => [0, v]), xLow, yHigh);
  dots(o.outlier, xHigh, yLow);

  g.append("line").attr("x1", xLow(o.line[0][0])).attr("y1", yLow(o.line[0][1]))
    .attr("x2", xLow(o.line[1][0])).attr("y2", yLow(o.line[1][1]))
    .attr("stroke", orange).attr("stroke-width", 1);

  const style = a => {
    a.selectAll("path,line").attr("stroke", "#000").attr("stroke-width", 1.1);
    a.selectAll("text").attr("font-size", 7).attr("font-weight", "bold").attr("fill", "#222").attr("font-family", null);
  };
  const fmt = (shown) => d => shown.includes(d) ? d : "";
  style(g.append("g").attr("transform", `translate(0,${axisY})`)
    .call(d3.axisBottom(xLow).tickValues(o.xLowTicks.concat(o.xLowDom[1])).tickFormat(fmt(o.xLowTicks)).tickSize(3).tickSizeOuter(0)));
  style(g.append("g").attr("transform", `translate(0,${axisY})`)
    .call(d3.axisBottom(xHigh).tickValues([o.xHighDom[0],10,20]).tickFormat(fmt([10,20])).tickSize(3).tickSizeOuter(0)));
  style(g.append("g").attr("transform", `translate(${axisX},0)`)
    .call(d3.axisLeft(yLow).tickValues(o.yLowTicks).tickFormat(d => d).tickSize(3).tickSizeOuter(0)));
  style(g.append("g").attr("transform", `translate(${axisX},0)`)
    .call(d3.axisLeft(yHigh).tickValues(o.yHighTicks).tickFormat(d => d).tickSize(3).tickSizeOuter(0)));

  label(o.titleX, 776.7, "TCGA GC tissues", 9.9, "middle", "#222", "bold");
  label(o.xLabelX, o.xLabelY, "Reads of miR-3174", 10.2, "middle", "#222", "bold");
  label(o.xLabelX, o.xLabelY + 12, "(Normalized by Tpm)", 10.2, "middle", "#222", "bold");
  label(o.noteX, o.noteY, o.noteR, 9.6, "start", "#D0603F");
  label(o.noteX, o.noteY + 11.6, o.noteP, 9.6, "start", "#D0603F");

  const yl = svg.append("text").attr("transform", `translate(${o.yLabelX},835.5) rotate(-90)`)
    .attr("font-size", 10.2).attr("font-weight", "bold").attr("text-anchor", "middle").attr("fill", "#222");
  yl.append("tspan").text("Reads of ");
  yl.append("tspan").attr("fill", "#D4401F").text(o.gene);
  svg.append("text").attr("transform", `translate(${o.yLabelX + 11},835.5) rotate(-90)`)
    .attr("font-size", 10.2).attr("font-weight", "bold").attr("text-anchor", "middle").attr("fill", "#222")
    .text("(Normalized by Tpm)");
}

scatter({
  gene: "ZNF471", points: fPoints, upper: fUpper, zero: fZero, zeroUpper: fZeroUpper, outlier: fOutlier, line: fLine,
  xLowDom: [0,7], xLowRange: [38.7,155.3], xLowTicks: [0,2,4,6],
  xHighDom: [8.8,20], xHighRange: [163.3,179],
  yLowDom: [0,300], yLowRange: [882,818.3], yLowTicks: [0,100,200,300],
  yHighDom: [450,1500], yHighRange: [807.7,790], yHighTicks: [650,1300],
  titleX: 109, xLabelX: 109, xLabelY: 905, yLabelX: 7.5,
  noteX: 131, noteY: 796, noteR: "R=-0.196", noteP: "P<0.0001"
});
scatter({
  gene: "LDOC1", points: gPoints, upper: gUpper, zero: gZero, zeroUpper: gZeroUpper, outlier: gOutlier, line: gLine,
  xLowDom: [0,8.55], xLowRange: [221,341.7], xLowTicks: [0,2,4,6,8],
  xHighDom: [9.1,20], xHighRange: [349,365],
  yLowDom: [0,1000], yLowRange: [882.7,812.7], yLowTicks: [0,500,1000],
  yHighDom: [965,7500], yHighRange: [804,787], yHighTicks: [3500,7000],
  titleX: 293.3, xLabelX: 293.3, xLabelY: 907, yLabelX: 187,
  noteX: 317.7, noteY: 793, noteR: "R=-0.153", noteP: "P=0.002"
});
scatter({
  gene: "CLMP", points: hPoints, upper: hUpper, zero: hZero, zeroUpper: hZeroUpper, outlier: hOutlier, line: hLine,
  xLowDom: [0,7.04], xLowRange: [415.3,532.3], xLowTicks: [0,2,4,6],
  xHighDom: [7.8,20], xHighRange: [540,555],
  yLowDom: [0,2500], yLowRange: [883.3,815], yLowTicks: [0,500,1000,1500,2000,2500],
  yHighDom: [4400,22000], yHighRange: [805.7,790], yHighTicks: [10000,20000],
  titleX: 489, xLabelX: 486.7, xLabelY: 907, yLabelX: 378.5,
  noteX: 506.7, noteY: 797.3, noteR: "R=-0.151", noteP: "P=0.002"
});
scatter({
  gene: "ARHGAP10", points: iPoints, upper: iUpper, zero: iZero, zeroUpper: iZeroUpper, outlier: iOutlier, line: iLine,
  xLowDom: [0,8.94], xLowRange: [607.3,724], xLowTicks: [0,2,4,6,8],
  xHighDom: [9,20], xHighRange: [732.3,748.3],
  yLowDom: [0,2000], yLowRange: [883.3,815], yLowTicks: [0,400,800,1200,1600,2000],
  yHighDom: [4000,13000], yHighRange: [807,790.7], yHighTicks: [10000],
  titleX: 667.7, xLabelX: 680.7, xLabelY: 907, yLabelX: 568.5,
  noteX: 700.7, noteY: 799.7, noteR: "R=-0.150", noteP: "P=0.003"
});
</script>
</body>
</html>
